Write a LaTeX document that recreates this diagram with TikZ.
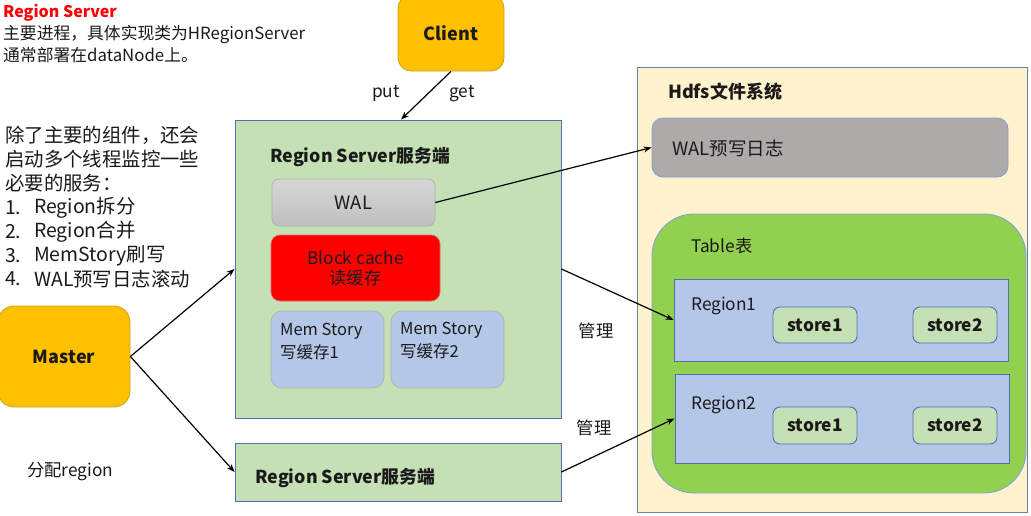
\documentclass[tikz,border=0pt]{standalone}
\usepackage{fontspec}
\setmainfont{Noto Sans CJK SC}
\usetikzlibrary{arrows.meta}
\definecolor{gold}{HTML}{FFC000}
\definecolor{goldline}{HTML}{C9A227}
\definecolor{rsgreen}{HTML}{C5E0B4}
\definecolor{blueline}{HTML}{4F71B0}
\definecolor{lightblueline}{HTML}{7FA3D8}
\definecolor{memblue}{HTML}{B4C7E7}
\definecolor{grayline}{HTML}{B0B0B0}
\definecolor{hdfsfill}{HTML}{FFF2CC}
\definecolor{walgray}{HTML}{AEAAAA}
\definecolor{tablegreen}{HTML}{92D050}
\definecolor{txt}{HTML}{1A1A1A}
\tikzset{
  fs/.style={font=\fontsize{#1}{#1}\selectfont},
  fsb/.style={font=\fontsize{#1}{#1}\selectfont\bfseries},
  box/.style={inner sep=0pt, text=txt},
  goldbox/.style={box, draw=goldline, fill=gold, rounded corners=13pt, line width=0.8pt},
  rsbox/.style={box, draw=blueline, fill=rsgreen, line width=0.9pt},
  walbox/.style={box, draw=grayline, top color=black!16, bottom color=black!25, rounded corners=7pt, line width=0.7pt},
  redbox/.style={box, draw=red!80!black!60, fill=red, rounded corners=9pt, line width=0.7pt},
  membox/.style={box, draw=grayline, fill=memblue, rounded corners=11pt, line width=0.7pt},
  hdfsbox/.style={box, draw=lightblueline!80!black, fill=hdfsfill, line width=0.9pt},
  logbox/.style={box, draw=lightblueline, fill=walgray, rounded corners=11pt, line width=0.9pt},
  tablebox/.style={box, draw=lightblueline, fill=tablegreen, rounded corners=42pt, line width=0.9pt},
  regionbox/.style={box, draw=blueline, fill=memblue, line width=0.9pt},
  storebox/.style={box, draw=blueline, fill=rsgreen, rounded corners=7pt, line width=0.9pt},
  lbl/.style={inner sep=0pt, text=txt, anchor=west},
  arr/.style={-{Stealth[length=8pt,width=6pt]}, line width=1.2pt, black},
}
\begin{document}
\begin{tikzpicture}[x=1pt,y=-1pt]
\useasboundingbox (0,0) rectangle (1031,515);
\fill[white] (0,0) rectangle (1031,515);

% top-left notes
\node[lbl, fsb=16, text=red] (rstitle) at (3,13) {Region Server};
\node[lbl, fs=16.8] (rsl1) at (3,34) {主要进程，具体实现类为HRegionServer};
\node[lbl, fs=16.8] (rsl2) at (3,55) {通常部署在dataNode上。};

% left list
\node[lbl, fs=19.4] (ll1) at (5,135) {除了主要的组件，还会};
\node[lbl, fs=19.4] (ll2) at (5,159) {启动多个线程监控一些};
\node[lbl, fs=19.4] (ll3) at (5,183) {必要的服务：};
\node[lbl, fs=19.4] (ln1) at (5,208) {1.};
\node[lbl, fs=19.4] (li1) at (34,208) {Region拆分};
\node[lbl, fs=19.4] (ln2) at (5,232) {2.};
\node[lbl, fs=19.4] (li2) at (34,232) {Region合并};
\node[lbl, fs=19.4] (ln3) at (5,256) {3.};
\node[lbl, fs=19.4] (li3) at (34,256) {MemStory刷写};
\node[lbl, fs=19.4] (ln4) at (5,279) {4.};
\node[lbl, fs=19.4] (li4) at (34,279) {WAL预写日志滚动};

% client and master
\node[goldbox, fsb=18, minimum width=106pt, minimum height=76pt] (client) at (451,33) {Client};
\node[goldbox, fsb=18, rounded corners=16pt, minimum width=132pt, minimum height=101pt] (master) at (64,356.5) {Master};

% region server 1
\node[rsbox, minimum width=326pt, minimum height=298pt] (rs1) at (398,269) {};
\node[lbl, fsb=17.8] (rs1t) at (270,157) {Region Server服务端};
\node[walbox, fs=18.5, minimum width=163pt, minimum height=47pt] (wal) at (353.5,202.5) {WAL};
\node[redbox, fs=17.3, minimum width=169pt, minimum height=66pt, align=center] (block) at (355.5,268) {Block cache\\[3pt]读缓存};
\node[membox, minimum width=113pt, minimum height=77pt] (mem1) at (327.5,349.5) {};
\node[membox, minimum width=113pt, minimum height=77pt] (mem2) at (447.5,349.5) {};
\node[lbl, fs=16.5] (mem1a) at (280,331) {Mem Story};
\node[lbl, fs=16.5] (mem1b) at (280,352) {写缓存1};
\node[lbl, fs=16.5] (mem2a) at (400,330) {Mem Story};
\node[lbl, fs=16.5] (mem2b) at (400,351) {写缓存2};

% region server 2
\node[rsbox, minimum width=326pt, minimum height=58pt] (rs2) at (398,472) {};
\node[lbl, fsb=17.8] (rs2t) at (255,478) {Region Server服务端};

% hdfs
\node[hdfsbox, minimum width=390pt, minimum height=445pt] (hdfs) at (832,289.5) {};
\node[lbl, fsb=18] (hdfst) at (668,92) {Hdfs文件系统};
\node[logbox, minimum width=356pt, minimum height=59pt] (wallog) at (830,147.5) {};
\node[lbl, fs=18.5] (wallogt) at (672,148) {WAL预写日志};
\node[tablebox, minimum width=374pt, minimum height=279pt] (table) at (839,353.5) {};
\node[lbl, fs=17.3] (tablet) at (691,246) {Table表};
\node[regionbox, minimum width=334pt, minimum height=82pt] (region1) at (841,320) {};
\node[lbl, fs=17.3] (region1t) at (691,306) {Region1};
\node[storebox, fsb=17.3, minimum width=84pt, minimum height=36pt] (s11) at (815,325) {store1};
\node[storebox, fsb=17.3, minimum width=84pt, minimum height=36pt] (s12) at (955,325) {store2};
\node[regionbox, minimum width=334pt, minimum height=89pt] (region2) at (842,418.5) {};
\node[lbl, fs=17.3] (region2t) at (691,405) {Region2};
\node[storebox, fsb=17.3, minimum width=84pt, minimum height=37pt] (s21) at (815,425.5) {store1};
\node[storebox, fsb=17.3, minimum width=84pt, minimum height=37pt] (s22) at (955,425.5) {store2};

% connectors
\draw[arr] (client.south) -- ([xshift=3pt]rs1.north);
\draw[arr] (wal.east) -- (wallog.west);
\draw[arr] (rs1.east) -- (region1.west);
\draw[arr] (rs2.east) -- (region2.west);
\draw[arr] (master.east) -- (rs1.west);
\draw[arr] (master.east) -- (rs2.west);

% connector labels
\node[fs=17.3, text=txt, inner sep=0pt] (put) at (386,93) {put};
\node[fs=17.3, text=txt, inner sep=0pt] (get) at (462,94) {get};
\node[fs=17.3, text=txt, inner sep=0pt] (m1) at (596,331) {管理};
\node[fs=17.3, text=txt, inner sep=0pt] (m2) at (594,428) {管理};
\node[lbl, fs=17.3] (fp) at (27,472) {分配region};
\end{tikzpicture}
\end{document}
